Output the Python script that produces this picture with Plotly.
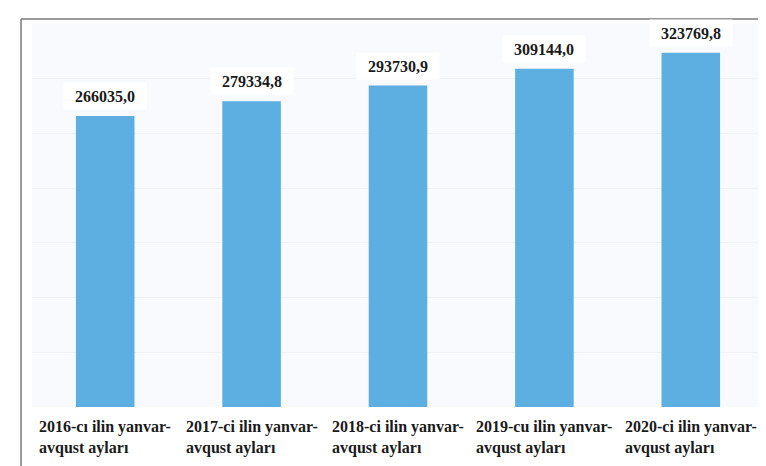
import plotly.graph_objects as go

categories = ["2016-cı il", "2017-ci il", "2018-ci il", "2019-cu il", "2020-ci il"]
values = [266035.0, 279334.8, 293730.9, 309144.0, 323769.8]
value_labels = ["266035,0", "279334,8", "293730,9", "309144,0", "323769,8"]
cat_labels = [
    "2016-cı ilin yanvar-<br>avqust ayları",
    "2017-ci ilin yanvar-<br>avqust ayları",
    "2018-ci ilin yanvar-<br>avqust ayları",
    "2019-cu ilin yanvar-<br>avqust ayları",
    "2020-ci ilin yanvar-<br>avqust ayları",
]

FONT = "Liberation Serif"
BAR_COLOR = "#5EAFE1"

fig = go.Figure()
fig.add_trace(go.Bar(x=categories, y=values, marker=dict(color=BAR_COLOR, line=dict(width=0)),
                     hoverinfo="skip"))

annotations = []
for i, (v, t) in enumerate(zip(values, value_labels)):
    annotations.append(dict(x=i, y=v, xref="x", yref="y", text="<b>%s</b>" % t,
                            showarrow=False, yanchor="bottom", yshift=6,
                            bgcolor="white", width=80, height=24,
                            font=dict(family=FONT, size=16, color="#1a1a1a")))
for i, t in enumerate(cat_labels):
    annotations.append(dict(x=i, y=0, xref="x", yref="paper", text="<b>%s</b>" % t,
                            showarrow=False, yanchor="top", yshift=-9, align="left",
                            font=dict(family=FONT, size=16, color="#1a1a1a")))

fig.update_layout(
    width=766, height=466,
    margin=dict(l=24, r=10, t=16, b=67),
    paper_bgcolor="white",
    plot_bgcolor="#f8fafd",
    bargap=0.6,
    showlegend=False,
    annotations=annotations,
    xaxis=dict(type="category", showticklabels=False, showgrid=False, zeroline=False,
               showline=False, ticks="", range=[-0.5, 4.5]),
    yaxis=dict(range=[0, 350000], dtick=50000, showticklabels=False, showgrid=True,
               gridcolor="#eef1f5", gridwidth=1, zeroline=False, showline=False, ticks=""),
    shapes=[
        dict(type="line", xref="paper", yref="paper", x0=-0.0150, x1=1.03, y0=1.0131, y1=1.0131,
             line=dict(color="#7a7a7a", width=1.5)),
        dict(type="line", xref="paper", yref="paper", x0=-0.0150, x1=-0.0150, y0=1.0131, y1=-0.2,
             line=dict(color="#7a7a7a", width=1.5)),
    ],
)

fig.write_html("out.html")
